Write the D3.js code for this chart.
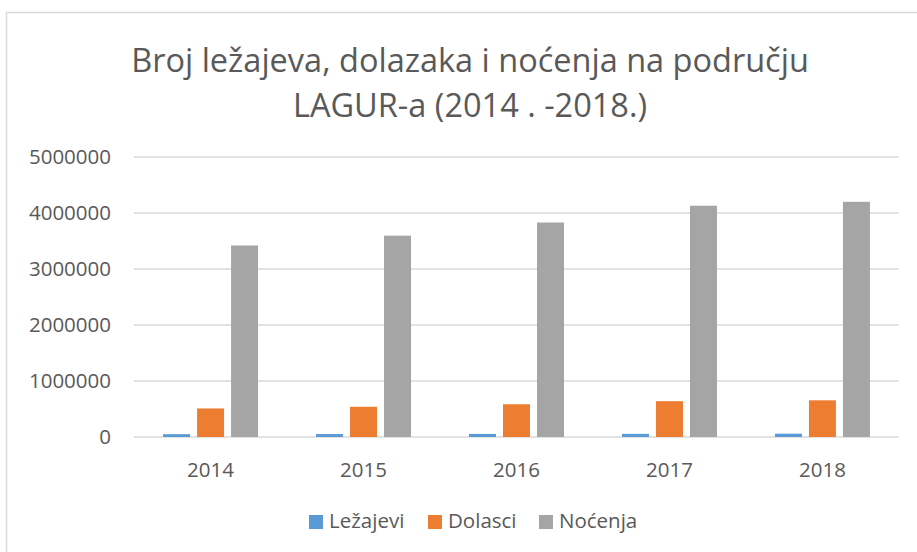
<!DOCTYPE html>
<html>
  <head>
    <meta charset="UTF-8" />
    <title>Broj ležajeva, dolazaka i noćenja</title>
    <script src="https://d3js.org/d3.v7.min.js"></script>
    <style>
      body { margin: 0; background: #fff; }
      text { font-family: "Open Sans", sans-serif; fill: #595959; }
    </style>
  </head>
  <body>
    <svg id="chart" width="917" height="552"></svg>
    <script>
      const years = ["2014", "2015", "2016", "2017", "2018"];
      const seriesNames = ["Ležajevi", "Dolasci", "Noćenja"];
      const lezajevi = [51000, 53000, 55000, 56000, 59000];
      const dolasci = [510000, 540000, 585000, 640000, 655000];
      const nocenja = [3420000, 3595000, 3830000, 4130000, 4200000];
      const yTicks = [0, 1000000, 2000000, 3000000, 4000000, 5000000];
      const colors = ["#5B9BD5", "#ED7D31", "#A5A5A5"];

      const values = [lezajevi, dolasci, nocenja];
      const svg = d3.select("#chart");

      // chart frame (runs off the right and bottom edges)
      svg
        .append("rect")
        .attr("x", 6.5)
        .attr("y", 12.5)
        .attr("width", 930)
        .attr("height", 560)
        .attr("fill", "#fff")
        .attr("stroke", "#D9D9D9")
        .attr("stroke-width", 1.5);

      const title = svg
        .append("text")
        .attr("text-anchor", "middle")
        .style("font-size", "32.5px");
      title.append("tspan").attr("x", 470).attr("y", 72)
        .text("Broj ležajeva, dolazaka i noćenja na području");
      title.append("tspan").attr("x", 470).attr("y", 117)
        .text("LAGUR-a (2014 . -2018.)");

      const y = d3.scaleLinear().domain([0, 5000000]).range([437, 157]);
      const x = d3.scaleBand().domain(years).range([134, 899])
        .paddingInner(0.379).paddingOuter(0.19);
      const xs = d3.scaleBand().domain(seriesNames).range([0, x.bandwidth()])
        .paddingInner(0.206);

      // gridlines
      svg
        .append("g")
        .selectAll("line")
        .data(yTicks)
        .join("line")
        .attr("x1", 134)
        .attr("x2", 899)
        .attr("y1", (d) => y(d))
        .attr("y2", (d) => y(d))
        .attr("stroke", "#D9D9D9")
        .attr("stroke-width", 1.5);

      // y labels
      svg
        .append("g")
        .selectAll("text")
        .data(yTicks)
        .join("text")
        .attr("x", 111)
        .attr("y", (d) => y(d))
        .attr("dy", "0.36em")
        .attr("text-anchor", "end")
        .style("font-size", "20.5px")
        .text((d) => d);

      // bars
      const groups = svg
        .append("g")
        .selectAll("g")
        .data(years)
        .join("g")
        .attr("transform", (d) => `translate(${x(d)},0)`);

      groups
        .selectAll("rect")
        .data((d, i) => seriesNames.map((s, k) => ({ s, k, v: values[k][i] })))
        .join("rect")
        .attr("x", (d) => xs(d.s))
        .attr("width", xs.bandwidth())
        .attr("y", (d) => y(d.v))
        .attr("height", (d) => y(0) - y(d.v))
        .attr("fill", (d) => colors[d.k]);

      // x labels
      svg
        .append("g")
        .selectAll("text")
        .data(years)
        .join("text")
        .attr("x", (d) => x(d) + x.bandwidth() / 2)
        .attr("y", 477)
        .attr("text-anchor", "middle")
        .style("font-size", "20.5px")
        .text((d) => d);

      // legend
      const legendX = [309, 428, 539];
      const legend = svg
        .append("g")
        .selectAll("g")
        .data(seriesNames)
        .join("g")
        .attr("transform", (d, i) => `translate(${legendX[i]},515)`);
      legend
        .append("rect")
        .attr("width", 14)
        .attr("height", 14)
        .attr("fill", (d, i) => colors[i]);
      legend
        .append("text")
        .attr("x", 20)
        .attr("y", 13)
        .style("font-size", "20.5px")
        .text((d) => d);
    </script>
  </body>
</html>
